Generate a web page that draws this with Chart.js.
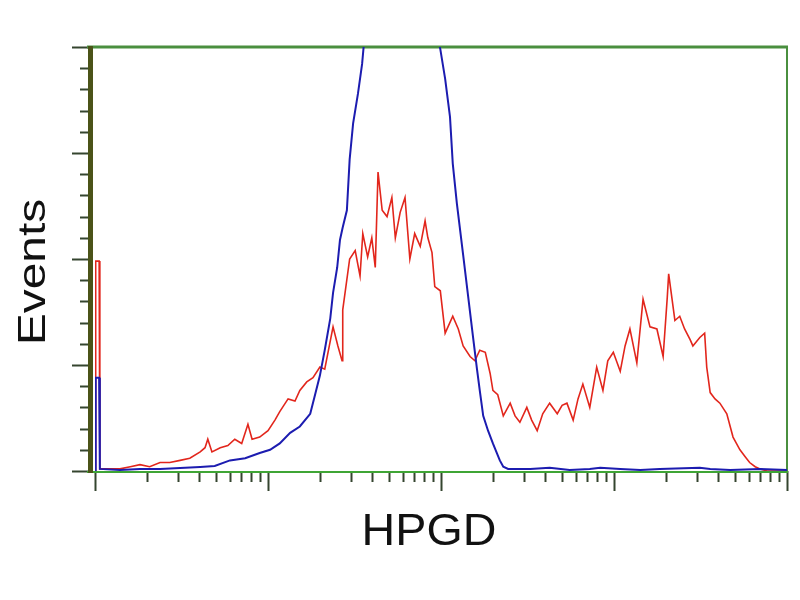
<!DOCTYPE html>
<html>
<head>
<meta charset="utf-8">
<script src="https://cdn.jsdelivr.net/npm/chart.js@4.4.0/dist/chart.umd.min.js"></script>
<style>
  html, body { margin: 0; padding: 0; background: #fff; }
  #wrap { width: 800px; height: 600px; }
</style>
</head>
<body>
<div id="wrap"><canvas id="histChart" width="800" height="600"></canvas></div>
<script>
// channel axis: 0..1000 spans 4 log decades (250 channels per decade)
let redChannels = [0, 1, 6, 7, 22, 36, 51, 65, 79, 94, 108, 123, 137, 152, 159, 163, 169, 181, 192, 202, 212, 221, 227, 238, 250, 260, 267, 279, 289, 296, 306, 315, 325, 332, 344, 351, 357, 358, 368, 376, 383, 387, 394, 400, 405, 409, 415, 422, 429, 434, 441, 448, 455, 462, 470, 477, 481, 487, 491, 499, 506, 517, 525, 532, 542, 549, 556, 564, 571, 575, 582, 590, 600, 607, 614, 624, 631, 639, 647, 657, 668, 675, 682, 691, 698, 705, 715, 725, 734, 741, 749, 759, 766, 773, 783, 792, 802, 812, 821, 827, 829, 838, 845, 852, 860, 864, 874, 881, 884, 889, 896, 903, 913, 922, 932, 939, 946, 954, 961, 971, 980, 990, 1000];
let redCounts = [0, 99, 99, 1, 1, 1, 2, 3, 2, 4, 4, 5, 6, 9, 11, 15, 9, 11, 12, 15, 13, 22, 15, 16, 19, 24, 28, 34, 33, 38, 42, 44, 49, 48, 68, 59, 52, 76, 100, 104, 92, 112, 101, 110, 96, 141, 123, 120, 129, 110, 122, 129, 100, 112, 106, 118, 110, 103, 87, 85, 65, 73, 67, 59, 54, 52, 57, 56, 46, 38, 36, 26, 32, 26, 23, 30, 24, 19, 27, 32, 27, 31, 32, 24, 34, 41, 30, 49, 38, 52, 56, 47, 59, 67, 51, 81, 68, 67, 54, 82, 93, 71, 73, 67, 62, 59, 63, 65, 49, 37, 34, 32, 27, 16, 10, 7, 4, 2, 1, 0, 0, 0, 0];

let blueChannels = [0, 1, 6, 7, 36, 65, 94, 123, 152, 173, 195, 217, 238, 253, 267, 282, 296, 311, 318, 325, 332, 340, 344, 350, 354, 358, 364, 368, 373, 380, 386, 389, 412, 441, 470, 496, 499, 506, 513, 517, 523, 532, 539, 546, 552, 556, 561, 568, 575, 585, 590, 597, 629, 657, 686, 715, 730, 759, 788, 816, 874, 889, 918, 961, 1000];
let blueCounts = [0, 44, 44, 1, 0.5, 1, 1, 1.4, 1.9, 2.4, 5, 6, 8.5, 10, 13, 18, 21, 27, 36, 45, 57, 72, 84, 96, 109, 115, 123, 147, 164, 178, 192, 203, 250, 265, 255, 203, 199, 185, 167, 145, 126, 102, 83, 64, 48, 38, 26, 19, 13, 5, 2, 1, 1, 1.5, 0.5, 1, 1.5, 1, 0.5, 1, 1.5, 1, 0.5, 1, 0.5];

let xMajorValues = [1, 10, 100, 1000, 10000];
let yMajorTicks = [0, 50, 100, 150, 200];
let xTitle = 'HPGD';
let yTitle = 'Events';

function toPoints(xs, ys) {
    return xs.map(function (x, i) { return { x: x, y: ys[i] }; });
}

// log decade tick positions in channel units
let xMinorTicks = [];
for (let d = 0; d < xMajorValues.length - 1; d++) {
    for (let k = 2; k <= 9; k++) {
        xMinorTicks.push(250 * Math.log10(k * xMajorValues[d]));
    }
}
let xMajorTicks = xMajorValues.map(function (v) { return 250 * Math.log10(v); });

const framePlugin = {
    id: 'frame',
    beforeDatasetsDraw(chart) {
        const ctx = chart.ctx;
        const a = chart.chartArea;
        const xs = chart.scales.x;
        const ys = chart.scales.y;
        ctx.save();
        ctx.lineCap = 'butt';

        // tick marks
        ctx.strokeStyle = '#34452f';
        ctx.lineWidth = 2;
        xMinorTicks.forEach(function (c) {
            const px = Math.round(xs.getPixelForValue(c)) + 0.5;
            ctx.beginPath(); ctx.moveTo(px, a.bottom); ctx.lineTo(px, a.bottom + 11); ctx.stroke();
        });
        xMajorTicks.forEach(function (c) {
            const px = Math.round(xs.getPixelForValue(c)) + 0.5;
            ctx.beginPath(); ctx.moveTo(px, a.bottom); ctx.lineTo(px, a.bottom + 20); ctx.stroke();
        });
        for (let v = 0; v <= 200; v += 10) {
            const py = Math.round(ys.getPixelForValue(v)) + 0.5;
            const major = yMajorTicks.indexOf(v) >= 0;
            ctx.beginPath(); ctx.moveTo(major ? 72 : 80, py); ctx.lineTo(a.left - 6, py); ctx.stroke();
        }

        // frame
        ctx.strokeStyle = '#4a8f3f';
        ctx.lineWidth = 3;
        ctx.beginPath(); ctx.moveTo(a.left - 8, a.top); ctx.lineTo(a.right + 1, a.top); ctx.stroke();
        ctx.lineWidth = 2;
        ctx.beginPath(); ctx.moveTo(a.right, a.top); ctx.lineTo(a.right, a.bottom + 1); ctx.stroke();
        ctx.strokeStyle = '#3fa535';
        ctx.beginPath(); ctx.moveTo(a.left - 8, a.bottom + 1); ctx.lineTo(a.right + 1, a.bottom + 1); ctx.stroke();
        ctx.strokeStyle = '#4b5318';
        ctx.lineWidth = 5;
        ctx.beginPath(); ctx.moveTo(a.left - 4.5, a.top - 1); ctx.lineTo(a.left - 4.5, a.bottom + 2); ctx.stroke();

        // axis titles
        ctx.fillStyle = '#111';
        ctx.textAlign = 'center';
        ctx.textBaseline = 'alphabetic';
        ctx.save();
        ctx.translate(429, 545);
        ctx.scale(1.06, 1);
        ctx.font = '44px "Liberation Sans", Arial, sans-serif';
        ctx.fillText(xTitle, 0, 0);
        ctx.restore();
        ctx.save();
        ctx.translate(45, 272);
        ctx.rotate(-Math.PI / 2);
        ctx.scale(1, 0.82);
        ctx.font = '48px "Liberation Sans", Arial, sans-serif';
        ctx.fillText(yTitle, 0, 0);
        ctx.restore();

        ctx.restore();
    }
};

let histChart = new Chart(document.getElementById('histChart'), {
    type: 'line',
    data: {
        datasets: [
            {
                label: 'control',
                data: toPoints(blueChannels, blueCounts),
                borderColor: '#1c1cb0',
                borderWidth: 2,
                pointRadius: 0,
                tension: 0,
                fill: false
            },
            {
                label: 'HPGD',
                data: toPoints(redChannels, redCounts),
                borderColor: '#e2261c',
                borderWidth: 1.6,
                pointRadius: 0,
                tension: 0,
                fill: false
            }
        ]
    },
    options: {
        responsive: false,
        animation: false,
        layout: { padding: { left: 95, right: 13, top: 47, bottom: 129 } },
        plugins: { legend: { display: false }, tooltip: { enabled: false } },
        scales: {
            x: { type: 'linear', min: 0, max: 1000, display: false },
            y: { type: 'linear', min: 0, max: 200, display: false }
        }
    },
    plugins: [framePlugin]
});
</script>
</body>
</html>
